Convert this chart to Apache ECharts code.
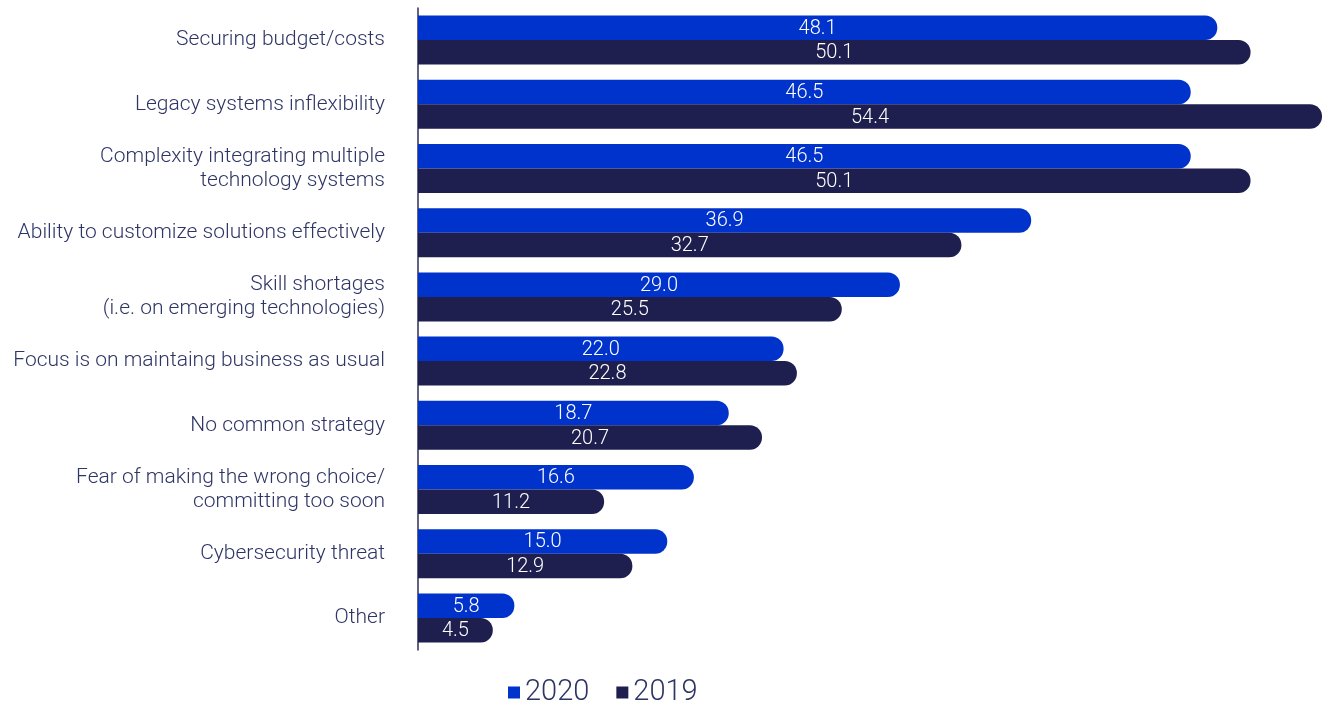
<!DOCTYPE html>
<html>
<head>
<meta charset="utf-8">
<script src="https://cdn.jsdelivr.net/npm/echarts@6/dist/echarts.min.js"></script>
<style>
  html, body { margin: 0; padding: 0; background: #fff; }
  #chart { width: 1330px; height: 702px; }
</style>
</head>
<body>
<div id="chart"></div>
<script>
var categories = [
  "Securing budget/costs",
  "Legacy systems inflexibility",
  "Complexity integrating multiple\ntechnology systems",
  "Ability to customize solutions effectively",
  "Skill shortages\n(i.e. on emerging technologies)",
  "Focus is on maintaing business as usual",
  "No common strategy",
  "Fear of making the wrong choice/\ncommitting too soon",
  "Cybersecurity threat",
  "Other"
];
var values2020 = [48.1, 46.5, 46.5, 36.9, 29.0, 22.0, 18.7, 16.6, 15.0, 5.8];
var values2019 = [50.1, 54.4, 50.1, 32.7, 25.5, 22.8, 20.7, 11.2, 12.9, 4.5];

var textColor = "#2e3565";
var font = "Roboto";

var chart = echarts.init(document.getElementById("chart"));

function barSeries(name, color, data) {
  return {
    name: name,
    type: "bar",
    barWidth: 24.5,
    barGap: "0%",
    itemStyle: {
      color: color,
      borderRadius: [0, 12, 12, 0]
    },
    label: {
      show: true,
      position: "inside",
      color: "#ffffff",
      fontFamily: font,
      fontWeight: 300,
      fontSize: 20,
      offset: [0, 1],
      formatter: function (p) {
        return p.value.toFixed(1);
      }
    },
    data: data
  };
}

chart.setOption({
  animation: false,
  textStyle: { fontFamily: font },
  grid: {
    left: 418,
    right: 8,
    top: 8,
    bottom: 52
  },
  legend: {
    data: ["2020", "2019"],
    top: 673,
    left: 503,
    itemWidth: 12,
    itemHeight: 12,
    itemGap: 27,
    icon: "rect",
    textStyle: {
      color: textColor,
      fontFamily: font,
      fontWeight: 300,
      fontSize: 29,
      padding: [0, 0, 0, 0]
    }
  },
  xAxis: {
    type: "value",
    min: 0,
    max: 54.4,
    show: false
  },
  yAxis: {
    type: "category",
    inverse: true,
    data: categories,
    axisLine: {
      show: true,
      lineStyle: { color: "#2e2e5a", width: 1.5 }
    },
    axisTick: { show: false },
    axisLabel: {
      color: textColor,
      fontFamily: font,
      fontWeight: 300,
      fontSize: 21,
      lineHeight: 24,
      margin: 33,
      align: "right"
    }
  },
  series: [
    barSeries("2020", "#0033cc", values2020),
    barSeries("2019", "#1f1f4f", values2019)
  ]
});
</script>
</body>
</html>
